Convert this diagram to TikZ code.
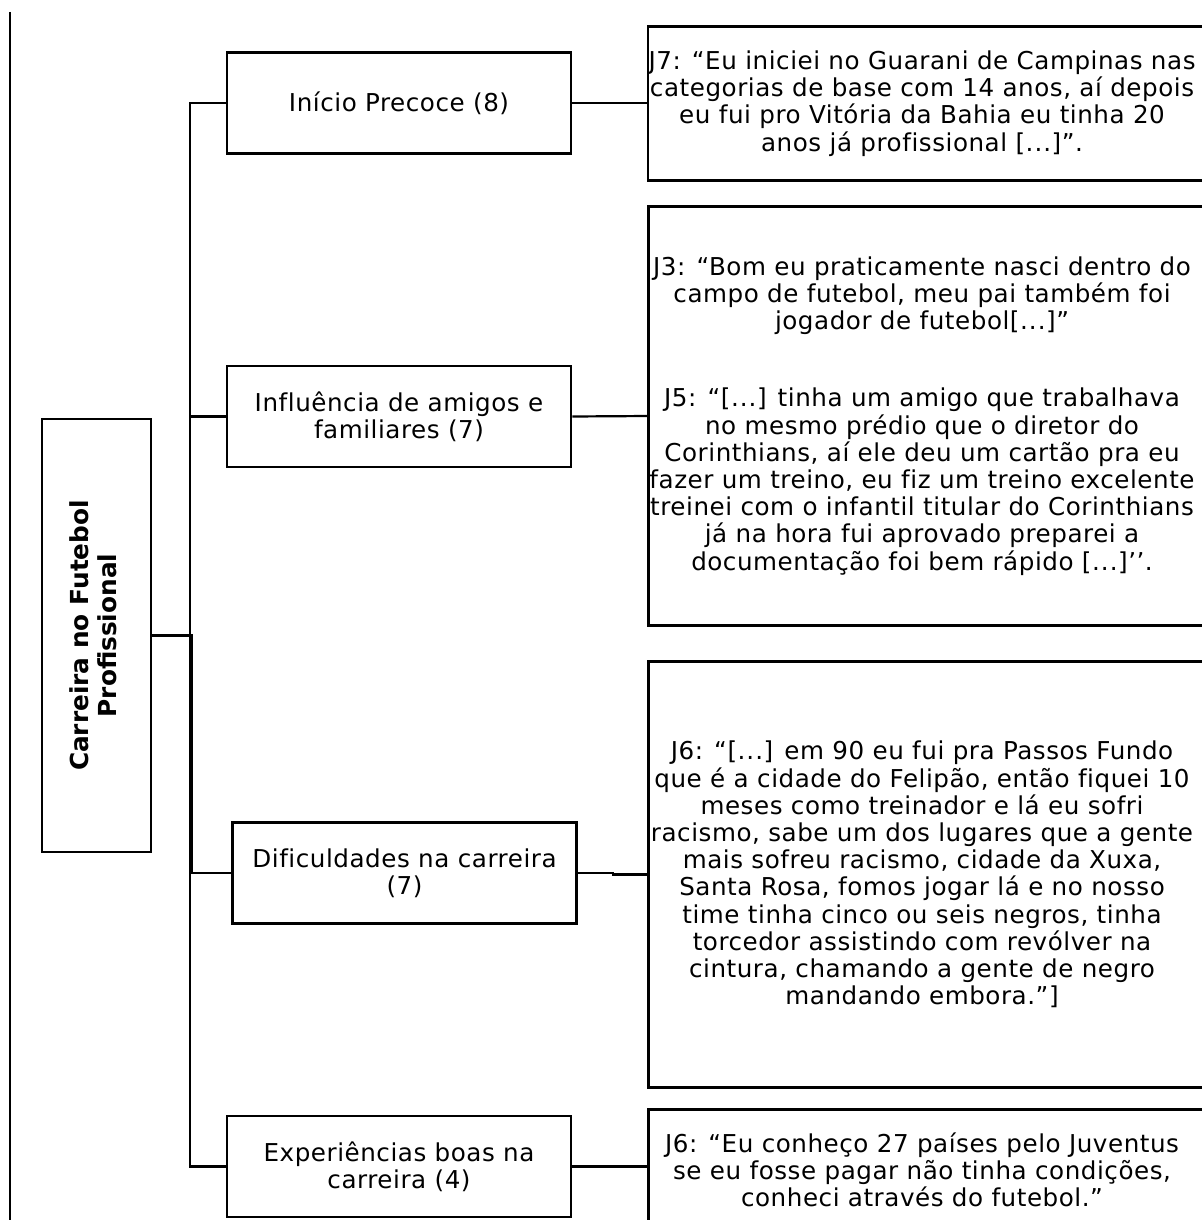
\documentclass[tikz,border=0pt]{standalone}
\usepackage{fontspec}
\setmainfont{DejaVu Sans}[LetterSpace=2.2, Ligatures={NoCommon}]
\newfontfamily\rootfont{DejaVu Sans}
\tikzset{
  boxline/.style={line width=1.3pt, draw=black},
  conn/.style={line width=1.1pt, draw=black},
  txt/.style={font=\fontsize{12.3}{13.6}\selectfont},
  midbox/.style={boxline, txt, align=center, inner sep=0pt, minimum width=172pt, minimum height=50.5pt},
  quotebox/.style={txt, align=center, inner sep=0pt, minimum width=273pt},
  rootbox/.style={boxline, inner sep=0pt, minimum width=54.5pt, minimum height=216.5pt}
}
\begin{document}
\begin{tikzpicture}[x=0.5pt,y=-0.5pt]
\useasboundingbox (0,0) rectangle (1202,1220);
% left page rule
\coordinate (ltop) at (10,12);
\coordinate (lbot) at (10,1222);
\draw[line width=0.9pt] (ltop) -- (lbot);

% root
\node[rootbox] (root) at (96.5,635.5)
  {\rotatebox{90}{\rootfont\bfseries\fontsize{12.4}{14}\selectfont
   \begin{tabular}{@{}c@{}}Carreira no Futebol\\Profissional\end{tabular}}};

% middle boxes
\node[midbox] (m1) at (399,103) {Início Precoce (8)};
\node[midbox] (m2) at (399,416.5) {Influência de amigos e\\familiares (7)};
\node[midbox] (m3) at (404.5,873) {Dificuldades na carreira\\(7)};
\node[midbox] (m4) at (399,1166.5) {Experiências boas na\\carreira (4)};

% quote boxes (right edge runs off the page)
\node[quotebox, minimum height=76.5pt] (q1) at (922,103.5)
 {J7: “Eu iniciei no Guarani de Campinas nas\\
  categorias de base com 14 anos, aí depois\\
  eu fui pro Vitória da Bahia eu tinha 20\\
  anos já profissional [.\kern0.5pt.\kern0.5pt.]”.};
\node[quotebox, minimum height=209pt] (q2) at (922,416)
 {J3: “Bom eu praticamente nasci dentro do\\
  campo de futebol, meu pai também foi\\
  jogador de futebol[.\kern0.5pt.\kern0.5pt.]”\\[25pt]
  J5: “[.\kern0.5pt.\kern0.5pt.] tinha um amigo que trabalhava\\
  no mesmo prédio que o diretor do\\
  Corinthians, aí ele deu um cartão pra eu\\
  fazer um treino, eu fiz um treino excelente\\
  treinei com o infantil titular do Corinthians\\
  já na hora fui aprovado preparei a\\
  documentação foi bem rápido [.\kern0.5pt.\kern0.5pt.]’’.};
\node[quotebox, minimum height=212.5pt] (q3) at (922,874.5)
 {J6: “[.\kern0.5pt.\kern0.5pt.] em 90 eu fui pra Passos Fundo\\
  que é a cidade do Felipão, então fiquei 10\\
  meses como treinador e lá eu sofri\\
  racismo, sabe um dos lugares que a gente\\
  mais sofreu racismo, cidade da Xuxa,\\
  Santa Rosa, fomos jogar lá e no nosso\\
  time tinha cinco ou seis negros, tinha\\
  torcedor assistindo com revólver na\\
  cintura, chamando a gente de negro\\
  mandando embora.”]};
\node[quotebox, minimum height=60pt] (q4) at (922,1170)
 {J6: “Eu conheço 27 países pelo Juventus\\
  se eu fosse pagar não tinha condições,\\
  conheci através do futebol.”};

\foreach \q in {q1,q2,q3,q4}{
  \draw[boxline] ([xshift=40pt]\q.north east) -- (\q.north west) -- (\q.south west) -- ([xshift=40pt]\q.south east);
}

% connectors root -> middle
\draw[conn] (root.east) -- ++(38,0) |- (m1.west);
\draw[conn] (root.east) -- ++(38,0) |- (m2.west);
\draw[conn] (root.east) -- ++(40,0) |- (m3.west);
\draw[conn] (root.east) -- ++(38,0) |- (m4.west);

% connectors middle -> quotes
\draw[conn] (m1.east) -- (m1.east -| q1.west);
\draw[conn] (m2.east) -- (q2.west);
\draw[conn] (m3.east) -- ++(35,0) |- (q3.west);
\draw[conn] (m4.east) -- (m4.east -| q4.west);
\end{tikzpicture}
\end{document}
